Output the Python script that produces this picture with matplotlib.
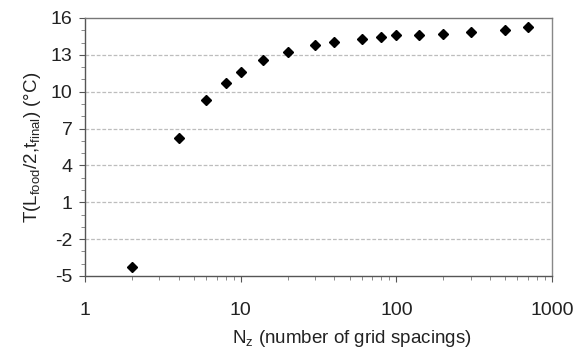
import numpy as np
import matplotlib
matplotlib.use('Agg')
import matplotlib.pyplot as plt
from matplotlib.ticker import LogLocator, MultipleLocator

plt.rcParams['font.family'] = ['Liberation Sans', 'DejaVu Sans']
plt.rcParams['axes.unicode_minus'] = False

# grid spacings vs temperature at food midpoint
n_z = [2, 4, 6, 8, 10, 14, 20, 30, 40, 60, 80, 100, 140, 200, 300, 500, 700]
temp = [-4.3, 6.2, 9.3, 10.7, 11.6, 12.6, 13.2, 13.8, 14.05, 14.3, 14.45,
        14.6, 14.6, 14.72, 14.84, 15.02, 15.27]
y_ticks = [-5, -2, 1, 4, 7, 10, 13, 16]
x_ticks = [1, 10, 100, 1000]

fig = plt.figure(figsize=(5.75, 3.52), dpi=100)
ax = fig.add_axes([0.148, 0.216, 0.812, 0.733])

ax.plot(n_z, temp, linestyle='none', marker='D', markersize=5.5,
        color='black', zorder=5)

ax.set_xscale('log')
ax.set_xlim(1, 1000)
ax.set_ylim(-5, 16)
ax.set_xticks(x_ticks)
ax.set_xticklabels([str(t) for t in x_ticks])
ax.xaxis.set_minor_locator(LogLocator(base=10, subs=np.arange(2, 10)))
ax.set_yticks(y_ticks)
ax.yaxis.set_minor_locator(MultipleLocator(1))

for y in y_ticks[1:-1]:
    ax.axhline(y, color='#bdbdbd', linewidth=0.9, linestyle=(0, (3, 1.5)), zorder=1)

for s in ax.spines.values():
    s.set_color('#555555')
    s.set_linewidth(1.0)
ax.spines['top'].set_color('#777777')
ax.spines['right'].set_color('#888888')

ax.tick_params(axis='both', which='major', direction='out', length=4,
               color='#555555', labelsize=14, labelcolor='#222222')
ax.tick_params(axis='both', which='minor', direction='out', length=3,
               color='#777777')
ax.tick_params(axis='x', which='major', pad=15)
ax.tick_params(axis='y', which='major', pad=5)

ax.set_xlabel(r'N$_\mathregular{z}$ (number of grid spacings)', fontsize=13.5,
              color='#222222')
ax.xaxis.set_label_coords(0.572, -0.20)
ax.set_ylabel(r'T(L$_\mathregular{food}$/2,t$_\mathregular{final}$) (°C)', fontsize=13.5,
              color='#222222', labelpad=6)

fig.savefig('out.png', dpi=100)
